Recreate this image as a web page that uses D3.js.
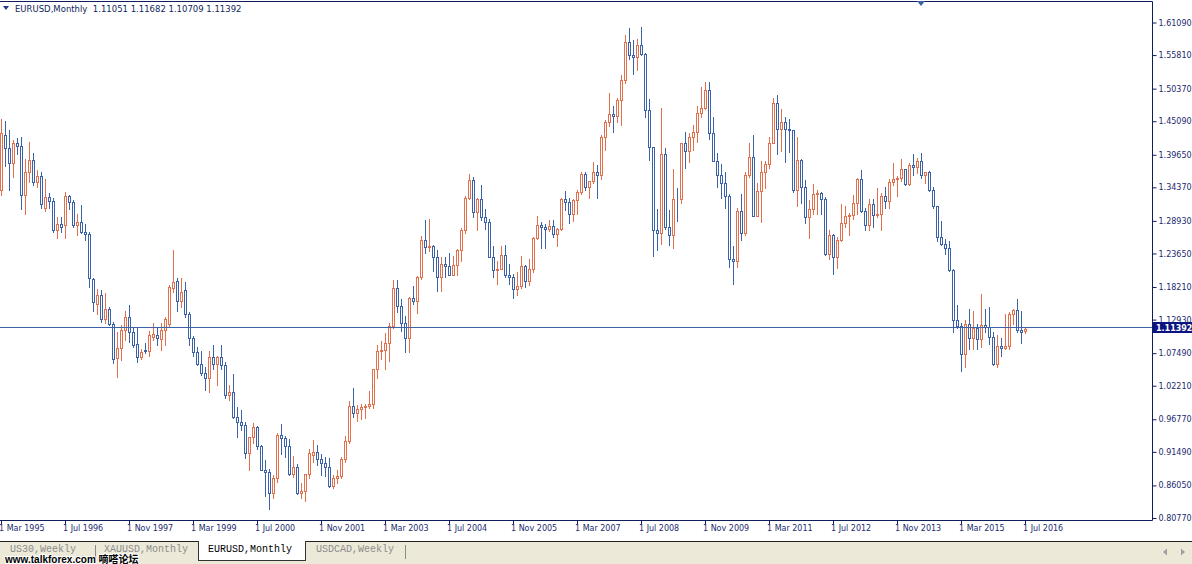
<!DOCTYPE html>
<html><head><meta charset="utf-8">
<script src="https://cdn.jsdelivr.net/npm/d3@7"></script>
<style>
html,body{margin:0;padding:0;background:#fff;}
svg{display:block;}
</style></head>
<body>
<svg id="chart" width="1192" height="564"></svg>
<script>
// ---- DATA (EURUSD monthly, Mar 1995 .. Jul 2016) ----
const firstMonth = new Date(1995, 2, 1);
const lastMonth = new Date(2016, 6, 1);
const open = [
 1.339,1.429,1.408,1.383,1.415,1.410,1.332,1.368,1.388,1.353,
 1.362,1.311,1.328,1.322,1.275,1.285,1.282,1.329,1.320,1.283,1.288,1.272,
 1.268,1.195,1.154,1.169,1.131,1.146,1.122,1.067,1.083,1.112,1.133,1.109,
 1.089,1.068,1.080,1.078,1.101,1.104,1.098,1.112,1.122,1.180,1.192,1.159,
 1.178,1.139,1.099,1.076,1.058,1.043,1.034,1.069,1.057,1.068,1.056,1.007,
 1.012,0.971,0.963,0.958,0.913,0.939,0.955,0.925,0.886,0.883,0.848,0.872,
 0.943,0.938,0.924,0.879,0.890,0.848,0.851,0.879,0.910,0.914,0.903,0.897,
 0.890,0.860,0.873,0.876,0.903,0.933,0.990,0.978,0.985,0.988,0.990,0.993,
 1.049,1.078,1.080,1.091,1.119,1.180,1.151,1.124,1.099,1.165,1.159,1.199,
 1.259,1.247,1.249,1.230,1.198,1.220,1.216,1.202,1.217,1.242,1.274,1.326,
 1.355,1.304,1.324,1.296,1.287,1.231,1.210,1.212,1.234,1.202,1.199,1.179,
 1.184,1.216,1.192,1.212,1.262,1.283,1.279,1.276,1.281,1.268,1.276,1.325,
 1.320,1.301,1.323,1.336,1.365,1.345,1.354,1.369,1.364,1.426,1.449,1.463,
 1.459,1.486,1.518,1.579,1.559,1.555,1.575,1.560,1.469,1.409,1.274,1.270,
 1.397,1.280,1.267,1.325,1.324,1.415,1.403,1.425,1.434,1.464,1.472,1.501,
 1.432,1.386,1.363,1.351,1.329,1.227,1.224,1.305,1.269,1.363,1.393,1.298,
 1.338,1.369,1.381,1.416,1.481,1.439,1.450,1.438,1.437,1.339,1.388,1.345,
 1.295,1.308,1.333,1.334,1.324,1.236,1.267,1.230,1.258,1.286,1.298,1.299,
 1.319,1.358,1.306,1.282,1.317,1.299,1.301,1.330,1.322,1.352,1.358,1.359,
 1.374,1.349,1.380,1.377,1.387,1.363,1.369,1.339,1.313,1.263,1.252,1.245,
 1.210,1.129,1.119,1.073,1.122,1.099,1.115,1.098,1.121,1.118,1.101,1.057,
 1.086,1.083,1.087,1.138,1.145,1.113,1.11051
];
const high = [
 1.455,1.452,1.436,1.421,1.424,1.425,1.389,1.417,1.400,1.371,
 1.368,1.357,1.334,1.327,1.295,1.295,1.336,1.331,1.323,1.300,1.315,1.284,
 1.271,1.196,1.179,1.177,1.172,1.149,1.125,1.109,1.120,1.144,1.153,1.115,
 1.117,1.081,1.091,1.111,1.123,1.117,1.123,1.133,1.185,1.242,1.196,1.196,
 1.190,1.142,1.103,1.085,1.078,1.053,1.079,1.088,1.071,1.088,1.060,1.023,
 1.041,0.988,0.983,0.964,0.937,0.962,0.957,0.926,0.902,0.887,0.877,0.946,
 0.960,0.941,0.936,0.908,0.895,0.865,0.878,0.920,0.934,0.926,0.912,0.906,
 0.905,0.878,0.885,0.906,0.940,0.998,1.019,0.991,0.993,0.992,1.014,1.050,
 1.088,1.094,1.107,1.123,1.193,1.193,1.162,1.135,1.166,1.183,1.200,1.265,
 1.290,1.293,1.250,1.242,1.230,1.230,1.237,1.233,1.243,1.277,1.330,1.366,
 1.360,1.326,1.348,1.309,1.293,1.248,1.225,1.248,1.250,1.220,1.204,1.206,
 1.233,1.217,1.228,1.263,1.298,1.287,1.284,1.290,1.290,1.278,1.326,1.337,
 1.326,1.324,1.339,1.368,1.369,1.354,1.385,1.380,1.428,1.453,1.497,1.476,
 1.488,1.525,1.590,1.602,1.582,1.584,1.604,1.562,1.487,1.409,1.308,1.472,
 1.407,1.307,1.374,1.343,1.416,1.434,1.431,1.445,1.475,1.506,1.514,1.514,
 1.458,1.399,1.382,1.369,1.333,1.248,1.310,1.333,1.368,1.416,1.428,1.350,
 1.386,1.386,1.425,1.488,1.494,1.470,1.458,1.455,1.437,1.425,1.389,1.355,
 1.323,1.349,1.339,1.336,1.328,1.275,1.268,1.264,1.317,1.314,1.302,1.331,
 1.359,1.371,1.310,1.324,1.324,1.342,1.335,1.345,1.357,1.383,1.362,1.390,
 1.374,1.383,1.397,1.391,1.399,1.369,1.370,1.344,1.314,1.289,1.260,1.257,
 1.212,1.153,1.124,1.129,1.146,1.144,1.122,1.171,1.146,1.150,1.109,1.105,
 1.100,1.138,1.141,1.146,1.162,1.143,1.11682
];
const low = [
 1.331,1.379,1.339,1.360,1.397,1.308,1.300,1.353,1.347,1.345,
 1.310,1.306,1.311,1.272,1.261,1.271,1.261,1.308,1.279,1.266,1.269,1.258,
 1.182,1.144,1.138,1.125,1.123,1.120,1.059,1.036,1.064,1.096,1.093,1.085,
 1.060,1.065,1.075,1.070,1.096,1.088,1.080,1.088,1.118,1.174,1.144,1.149,
 1.133,1.088,1.070,1.056,1.040,1.015,1.012,1.050,1.024,1.049,1.002,0.999,
 0.969,0.939,0.950,0.905,0.885,0.929,0.920,0.885,0.844,0.823,0.840,0.866,
 0.911,0.906,0.878,0.874,0.846,0.840,0.835,0.873,0.899,0.893,0.877,0.876,
 0.858,0.856,0.864,0.872,0.899,0.930,0.972,0.965,0.968,0.970,0.986,0.986,
 1.034,1.065,1.050,1.062,1.116,1.141,1.111,1.076,1.077,1.155,1.140,1.195,
 1.238,1.241,1.208,1.176,1.176,1.199,1.201,1.201,1.202,1.225,1.270,1.324,
 1.296,1.275,1.291,1.276,1.230,1.199,1.187,1.211,1.199,1.187,1.164,1.169,
 1.180,1.182,1.186,1.206,1.260,1.246,1.246,1.273,1.264,1.248,1.274,1.307,
 1.286,1.289,1.300,1.333,1.340,1.326,1.350,1.326,1.358,1.405,1.443,1.433,
 1.450,1.444,1.513,1.551,1.528,1.534,1.558,1.458,1.388,1.233,1.242,1.252,
 1.276,1.250,1.246,1.289,1.318,1.375,1.385,1.405,1.417,1.458,1.471,1.422,
 1.386,1.344,1.327,1.311,1.215,1.187,1.215,1.259,1.266,1.360,1.297,1.297,
 1.287,1.343,1.375,1.415,1.397,1.402,1.384,1.401,1.336,1.314,1.319,1.286,
 1.262,1.300,1.300,1.300,1.234,1.228,1.204,1.213,1.256,1.280,1.266,1.292,
 1.300,1.304,1.275,1.275,1.280,1.296,1.275,1.310,1.310,1.348,1.330,1.354,
 1.348,1.347,1.364,1.367,1.359,1.350,1.337,1.311,1.257,1.250,1.236,1.208,
 1.110,1.116,1.046,1.052,1.082,1.082,1.081,1.085,1.109,1.090,1.056,1.052,
 1.071,1.081,1.082,1.122,1.110,1.091,1.10709
];
const close = [
 1.431,1.408,1.383,1.415,1.410,1.332,1.368,1.388,1.353,1.362,
 1.316,1.328,1.322,1.275,1.285,1.280,1.329,1.320,1.283,1.288,1.271,1.268,
 1.196,1.158,1.169,1.131,1.146,1.122,1.066,1.083,1.112,1.133,1.109,1.088,
 1.068,1.076,1.078,1.104,1.106,1.100,1.112,1.131,1.182,1.191,1.159,1.174,
 1.139,1.099,1.076,1.058,1.043,1.034,1.069,1.057,1.068,1.056,1.007,1.012,
 0.971,0.963,0.958,0.913,0.939,0.955,0.925,0.886,0.883,0.848,0.872,0.943,
 0.938,0.924,0.879,0.890,0.848,0.851,0.879,0.913,0.914,0.903,0.897,0.890,
 0.860,0.873,0.876,0.903,0.933,0.990,0.978,0.985,0.988,0.990,0.993,1.049,
 1.078,1.080,1.091,1.119,1.180,1.151,1.124,1.099,1.165,1.159,1.199,1.259,
 1.247,1.249,1.230,1.198,1.220,1.216,1.202,1.217,1.242,1.274,1.326,1.355,
 1.304,1.324,1.296,1.287,1.231,1.210,1.212,1.234,1.202,1.199,1.179,1.184,
 1.216,1.192,1.212,1.262,1.283,1.279,1.276,1.281,1.268,1.276,1.325,1.320,
 1.301,1.323,1.336,1.365,1.345,1.354,1.369,1.364,1.426,1.449,1.463,1.459,
 1.486,1.518,1.579,1.559,1.555,1.575,1.560,1.469,1.409,1.274,1.270,1.397,
 1.280,1.267,1.325,1.324,1.415,1.403,1.425,1.434,1.464,1.472,1.501,1.432,
 1.386,1.363,1.351,1.329,1.227,1.224,1.305,1.269,1.363,1.393,1.298,1.338,
 1.369,1.381,1.416,1.481,1.439,1.450,1.438,1.437,1.339,1.388,1.345,1.295,
 1.308,1.333,1.334,1.324,1.236,1.267,1.230,1.258,1.286,1.298,1.299,1.319,
 1.358,1.306,1.282,1.317,1.299,1.301,1.330,1.322,1.352,1.358,1.359,1.374,
 1.349,1.380,1.377,1.387,1.363,1.369,1.339,1.313,1.263,1.252,1.245,1.210,
 1.129,1.119,1.073,1.122,1.099,1.115,1.098,1.121,1.118,1.101,1.057,1.086,
 1.083,1.087,1.138,1.145,1.113,1.110,1.11392
];
const priceTicks = [1.61090,1.55810,1.50370,1.45090,1.39650,1.34370,1.28930,1.23650,
  1.18210,1.12930,1.07490,1.02210,0.96770,0.91490,0.86050,0.80770];
const timeTickLabels = ["1 Mar 1995","1 Jul 1996","1 Nov 1997","1 Mar 1999","1 Jul 2000",
  "1 Nov 2001","1 Mar 2003","1 Jul 2004","1 Nov 2005","1 Mar 2007","1 Jul 2008",
  "1 Nov 2009","1 Mar 2011","1 Jul 2012","1 Nov 2013","1 Mar 2015","1 Jul 2016"];
const symbol = "EURUSD,Monthly";
const lastQuote = [1.11051, 1.11682, 1.10709, 1.11392];
const tabs = ["US30,Weekly", "XAUUSD,Monthly", "EURUSD,Monthly", "USDCAD,Weekly"];
const watermark = "www.talkforex.com 嘀嗒论坛";

// ---- BUILD ----
const months = d3.timeMonth.range(firstMonth, d3.timeMonth.offset(lastMonth, 1));
const bars = months.map((d, i) => ({date: d, o: open[i], h: high[i], l: low[i], c: close[i]}));

const W = 1192, H = 564;
const plotRight = 1152, plotBottom = 520;
const svg = d3.select("#chart");
const navy = "#101f5c";
const axisText = "#1d2a6e";
const bull = "#e3704c", bear = "#3b62a8";
const sans = "DejaVu Sans, sans-serif";

svg.append("rect").attr("width", W).attr("height", H).attr("fill", "#fff");

const x = d3.scaleTime()
  .domain([firstMonth, lastMonth])
  .range([1, 1 + 4 * (months.length - 1)]);
const xi = d => Math.round(x(d));
const y = d3.scaleLinear().domain([0.80770, 1.61090]).range([518, 22.5]);

svg.append("defs").append("clipPath").attr("id", "clip")
  .append("rect").attr("x", 0).attr("y", 1).attr("width", plotRight).attr("height", plotBottom - 1);

const g = svg.append("g").attr("clip-path", "url(#clip)");

// wicks
g.selectAll("line.wick").data(bars).join("line")
  .attr("class", "wick")
  .attr("x1", d => xi(d.date) + 0.5).attr("x2", d => xi(d.date) + 0.5)
  .attr("y1", d => Math.round(y(d.h))).attr("y2", d => Math.round(y(d.l)) + 1)
  .attr("stroke", d => d.c >= d.o ? bull : bear).attr("stroke-width", 1);

// hollow bodies
g.selectAll("rect.body").data(bars).join("rect")
  .attr("class", "body")
  .attr("x", d => xi(d.date) - 0.5)
  .attr("width", 2)
  .attr("y", d => Math.round(y(Math.max(d.o, d.c))) + 0.5)
  .attr("height", d => Math.max(0, Math.round(y(Math.min(d.o, d.c))) - Math.round(y(Math.max(d.o, d.c)))))
  .attr("fill", "#fff")
  .attr("stroke", d => d.c >= d.o ? bull : bear).attr("stroke-width", 1);

// current price line
const lastClose = close[close.length - 1];
const yl = Math.round(y(lastClose)) - 1.5;
svg.append("line").attr("x1", 0).attr("x2", plotRight).attr("y1", yl).attr("y2", yl)
  .attr("stroke", "#3f62a6").attr("stroke-width", 1);

// frame
svg.append("path")
  .attr("d", `M0,1.5H${plotRight + 0.5}V${plotBottom + 0.5}H0`)
  .attr("fill", "none").attr("stroke", navy).attr("stroke-width", 1);

// right price axis
const yAxis = d3.axisRight(y).tickValues(priceTicks).tickSize(4).tickPadding(2)
  .tickFormat(d3.format(".5f"));
const ya = svg.append("g").attr("transform", `translate(${plotRight + 0.5},0)`).call(yAxis);
ya.select(".domain").remove();
ya.selectAll(".tick line").attr("stroke", navy);
ya.selectAll(".tick text").attr("fill", axisText)
  .style("font-size", "8px").style("font-family", sans);

// current price label
svg.append("rect").attr("x", plotRight + 1).attr("y", yl - 5.5).attr("width", W - plotRight - 1)
  .attr("height", 11).attr("fill", "#0a1480");
svg.append("text").attr("x", plotRight + 4).attr("y", yl + 3.5)
  .attr("fill", "#fff").style("font-size", "8px").style("font-weight", "bold").style("font-family", sans)
  .text(d3.format(".5f")(lastClose));

// bottom time axis
const tickDates = timeTickLabels.map(s => d3.timeParse("%-d %b %Y")(s));
const xa = svg.append("g");
xa.selectAll("line").data(tickDates).join("line")
  .attr("x1", d => xi(d) + 0.5).attr("x2", d => xi(d) + 0.5)
  .attr("y1", plotBottom).attr("y2", plotBottom + 4)
  .attr("stroke", navy);
xa.selectAll("text").data(timeTickLabels).join("text")
  .attr("x", (s, i) => xi(tickDates[i]) - 2)
  .attr("y", 531)
  .attr("fill", axisText).style("font-size", "8px").style("font-family", sans)
  .text(s => s);

// header
svg.append("path").attr("d", "M3,6 L9,6 L6,10 Z").attr("fill", "#1b3a8c");
svg.append("text").attr("x", 15).attr("y", 12).attr("fill", navy)
  .style("font-size", "8.5px").style("font-family", sans).style("white-space", "pre")
  .text(symbol + "  " + lastQuote.map(d3.format(".5f")).join(" "));

// chart-shift marker
svg.append("path").attr("d", "M917,1 L925,1 L921,6 Z").attr("fill", "#3d63a6");

// tab bar
svg.append("rect").attr("x", 0).attr("y", 541).attr("width", W).attr("height", 23).attr("fill", "#ece9d8");
svg.append("line").attr("x1", 0).attr("x2", W).attr("y1", 541.5).attr("y2", 541.5).attr("stroke", "#222");
const tabX = [10, 104, 208, 316];
svg.append("rect").attr("x", 198.5).attr("y", 541.5).attr("width", 107).attr("height", 19)
  .attr("fill", "#fff").attr("stroke", "#333");
svg.append("line").attr("x1", 199).attr("x2", 305).attr("y1", 541.5).attr("y2", 541.5).attr("stroke", "#fff");
[95.5, 405.5].forEach(px => svg.append("line").attr("x1", px).attr("x2", px)
  .attr("y1", 545).attr("y2", 559).attr("stroke", "#8a8a8a"));
svg.selectAll("text.tab").data(tabs).join("text").attr("class", "tab")
  .attr("x", (d, i) => tabX[i]).attr("y", 552)
  .style("font-family", "Liberation Mono, monospace").style("font-size", "10px")
  .attr("fill", (d, i) => i === 2 ? "#000" : "#8c8c8c")
  .text(d => d);
svg.append("text").attr("x", 5).attr("y", 563)
  .style("font-family", "Liberation Sans, Noto Sans CJK SC, sans-serif").style("font-size", "10px")
  .style("font-weight", "bold").attr("fill", "#000")
  .attr("stroke", "#fff").attr("stroke-width", 2).attr("paint-order", "stroke")
  .text(watermark);
// scroll arrows
svg.append("path").attr("d", "M1163,552 L1167,548.5 L1167,555.5 Z").attr("fill", "#a0a0a0");
svg.append("path").attr("d", "M1185,552 L1181,548.5 L1181,555.5 Z").attr("fill", "#a0a0a0");
</script>
</body></html>
